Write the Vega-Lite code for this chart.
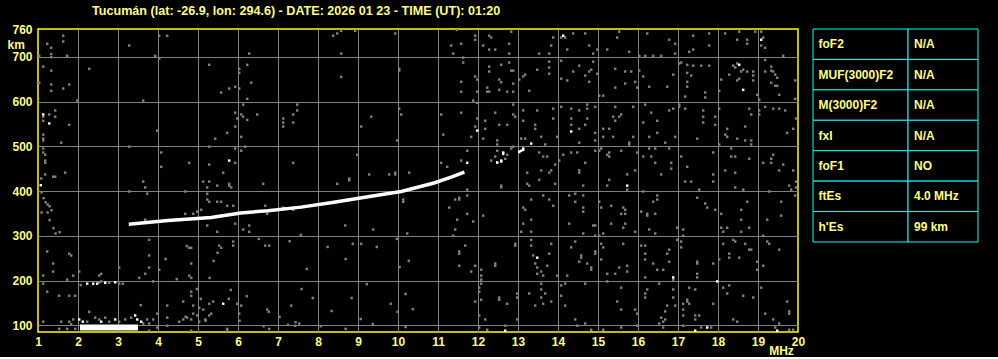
{
  "$schema": "https://vega.github.io/schema/vega-lite/v6.json",
  "background": "black",
  "padding": {"left": 6, "top": 4, "right": 20, "bottom": 0},
  "autosize": {"type": "pad"},
  "title": {"text": "Tucumán (lat: -26.9, lon: 294.6) - DATE: 2026 01 23 - TIME (UT): 01:20", "anchor": "start", "frame": "group", "dx": 54, "offset": 6, "font": "Liberation Sans", "fontSize": 12.6, "fontWeight": "bold", "color": "#ffff80"},
  "spacing": 15,
  "bounds": "flush",
  "config": {"view": {"stroke": null}, "axis": {"labelFont": "Liberation Sans", "labelFontSize": 12, "labelFontWeight": "bold", "labelColor": "#ffff80", "titleFont": "Liberation Sans", "titleFontSize": 12, "titleFontWeight": "bold", "titleColor": "#ffff80", "labelOverlap": false}},
  "datasets": {
    "gray": [
      {"f":1.63,"h":747},{"f":1.63,"h":734},{"f":1.23,"h":729},{"f":1.33,"h":720},{"f":1.33,"h":706},{"f":1.33,"h":699},{"f":1.03,"h":702},{"f":1.73,"h":702},{"f":3.28,"h":725},{"f":4.03,"h":747},{"f":4.23,"h":747},{"f":3.93,"h":702},{"f":4.03,"h":696},{"f":1.13,"h":678},{"f":1.33,"h":669},{"f":2.28,"h":673},{"f":1.03,"h":642},{"f":1.33,"h":638},{"f":1.33,"h":624},{"f":1.63,"h":629},{"f":1.78,"h":638},{"f":1.98,"h":602},{"f":3.63,"h":602},{"f":5.28,"h":682},{"f":6.23,"h":682},{"f":6.03,"h":673},{"f":6.03,"h":664},{"f":6.33,"h":642},{"f":5.93,"h":633},{"f":5.78,"h":629},{"f":6.03,"h":629},{"f":5.58,"h":620},{"f":6.23,"h":606},{"f":6.13,"h":593},{"f":5.93,"h":575},{"f":6.08,"h":571},{"f":5.98,"h":562},{"f":6.13,"h":566},{"f":6.23,"h":559},{"f":6.48,"h":571},{"f":5.93,"h":544},{"f":5.73,"h":530},{"f":5.43,"h":517},{"f":6.08,"h":521},{"f":7.13,"h":562},{"f":7.13,"h":553},{"f":7.13,"h":544},{"f":7.38,"h":571},{"f":7.48,"h":580},{"f":7.48,"h":593},{"f":7.38,"h":553},{"f":6.28,"h":707},{"f":8.58,"h":707},{"f":8.58,"h":655},{"f":8.38,"h":747},{"f":8.48,"h":752},{"f":8.58,"h":758},{"f":8.93,"h":758},{"f":9.93,"h":752},{"f":10.03,"h":673},{"f":10.03,"h":669},{"f":10.03,"h":584},{"f":10.08,"h":571},{"f":9.33,"h":566},{"f":9.08,"h":544},{"f":9.98,"h":513},{"f":8.98,"h":481},{"f":1.13,"h":566},{"f":1.28,"h":571},{"f":1.43,"h":580},{"f":1.43,"h":566},{"f":1.13,"h":557},{"f":1.78,"h":548},{"f":1.13,"h":526},{"f":1.13,"h":517},{"f":1.13,"h":513},{"f":1.58,"h":508},{"f":3.98,"h":535},{"f":3.28,"h":499},{"f":1.13,"h":495},{"f":1.18,"h":481},{"f":1.13,"h":486},{"f":1.18,"h":468},{"f":1.18,"h":463},{"f":4.08,"h":486},{"f":4.08,"h":454},{"f":4.78,"h":463},{"f":5.28,"h":499},{"f":5.28,"h":459},{"f":5.93,"h":495},{"f":6.08,"h":490},{"f":6.18,"h":499},{"f":5.93,"h":463},{"f":5.63,"h":441},{"f":7.38,"h":463},{"f":1.18,"h":437},{"f":1.38,"h":432},{"f":1.43,"h":432},{"f":1.68,"h":441},{"f":1.08,"h":428},{"f":8.78,"h":428},{"f":9.28,"h":437},{"f":9.78,"h":437},{"f":9.93,"h":441},{"f":9.93,"h":437},{"f":10.28,"h":441},
      {"f":11.47,"h":760},{"f":11.93,"h":747},{"f":11.93,"h":738},{"f":12.28,"h":747},{"f":12.33,"h":743},{"f":12.83,"h":756},{"f":12.78,"h":729},{"f":12.28,"h":716},{"f":12.43,"h":716},{"f":12.78,"h":707},{"f":12.13,"h":725},{"f":11.33,"h":725},{"f":11.58,"h":729},{"f":11.38,"h":707},{"f":11.63,"h":698},{"f":13.53,"h":707},{"f":13.78,"h":707},{"f":13.83,"h":725},{"f":13.88,"h":743},{"f":14.08,"h":743},{"f":14.18,"h":743},{"f":14.38,"h":752},{"f":14.68,"h":752},{"f":14.78,"h":725},{"f":14.23,"h":716},{"f":14.88,"h":707},{"f":14.98,"h":716},{"f":15.23,"h":716},{"f":15.53,"h":756},{"f":15.48,"h":743},{"f":15.78,"h":711},{"f":16.03,"h":702},{"f":16.18,"h":702},{"f":16.38,"h":702},{"f":16.58,"h":702},{"f":16.93,"h":707},{"f":16.78,"h":738},{"f":16.93,"h":729},{"f":16.23,"h":752},{"f":17.38,"h":747},{"f":17.78,"h":752},{"f":17.28,"h":711},{"f":17.38,"h":716},{"f":17.78,"h":725},{"f":18.18,"h":752},{"f":18.53,"h":756},{"f":18.48,"h":738},{"f":18.73,"h":738},{"f":18.73,"h":729},{"f":18.93,"h":756},{"f":19.08,"h":756},{"f":19.08,"h":725},{"f":19.18,"h":720},{"f":19.63,"h":702},{"f":19.13,"h":743},
      {"f":11.63,"h":687},{"f":12.28,"h":678},{"f":12.28,"h":667},{"f":12.58,"h":682},{"f":12.78,"h":687},{"f":12.83,"h":669},{"f":12.88,"h":669},{"f":11.58,"h":644},{"f":11.58,"h":622},{"f":11.93,"h":656},{"f":11.98,"h":649},{"f":12.23,"h":631},{"f":12.23,"h":622},{"f":12.28,"h":622},{"f":12.53,"h":649},{"f":12.53,"h":626},{"f":12.73,"h":622},{"f":12.88,"h":622},{"f":12.88,"h":640},{"f":12.58,"h":643},{"f":11.98,"h":622},{"f":13.03,"h":649},{"f":13.13,"h":656},{"f":13.18,"h":660},{"f":13.28,"h":624},{"f":13.48,"h":671},{"f":13.78,"h":689},{"f":13.78,"h":676},{"f":13.78,"h":662},{"f":14.08,"h":691},{"f":14.08,"h":651},{"f":14.23,"h":647},{"f":14.38,"h":667},{"f":14.53,"h":680},{"f":14.78,"h":667},{"f":14.68,"h":658},{"f":14.78,"h":644},{"f":14.83,"h":671},{"f":14.88,"h":689},{"f":14.98,"h":662},{"f":15.03,"h":613},{"f":15.13,"h":613},{"f":15.43,"h":673},{"f":15.43,"h":631},{"f":15.68,"h":667},{"f":15.83,"h":667},{"f":15.68,"h":640},{"f":15.93,"h":644},{"f":15.98,"h":631},{"f":16.03,"h":669},{"f":16.13,"h":656},{"f":16.28,"h":633},{"f":16.73,"h":633},{"f":16.88,"h":660},{"f":17.03,"h":685},{"f":17.08,"h":687},{"f":17.23,"h":682},{"f":17.23,"h":664},{"f":17.33,"h":658},{"f":17.38,"h":680},{"f":17.58,"h":680},{"f":17.23,"h":644},{"f":17.23,"h":633},{"f":17.18,"h":611},{"f":17.68,"h":620},{"f":17.68,"h":609},{"f":17.78,"h":680},{"f":18.03,"h":624},{"f":18.08,"h":649},{"f":18.28,"h":660},{"f":18.38,"h":680},{"f":18.48,"h":685},{"f":18.43,"h":676},{"f":18.58,"h":667},{"f":18.63,"h":671},{"f":18.73,"h":667},{"f":18.53,"h":651},{"f":18.48,"h":647},{"f":18.88,"h":667},{"f":18.88,"h":658},{"f":18.88,"h":647},{"f":19.18,"h":693},{"f":19.18,"h":667},{"f":19.33,"h":678},{"f":19.33,"h":669},{"f":19.38,"h":667},{"f":19.43,"h":660},{"f":19.48,"h":653},{"f":19.33,"h":642},{"f":19.43,"h":635},{"f":19.48,"h":635},{"f":19.93,"h":647},{"f":18.98,"h":615},{"f":19.03,"h":604},{"f":19.53,"h":615},{"f":19.93,"h":606},
      {"f":11.08,"h":571},{"f":11.58,"h":575},{"f":11.88,"h":602},{"f":11.98,"h":597},{"f":11.98,"h":562},{"f":12.18,"h":557},{"f":12.43,"h":575},{"f":11.93,"h":544},{"f":12.18,"h":539},{"f":12.53,"h":548},{"f":12.73,"h":548},{"f":12.88,"h":593},{"f":12.88,"h":571},{"f":12.93,"h":566},{"f":13.13,"h":580},{"f":13.13,"h":557},{"f":13.43,"h":548},{"f":13.43,"h":539},{"f":13.48,"h":580},{"f":13.88,"h":584},{"f":13.88,"h":562},{"f":14.08,"h":588},{"f":14.33,"h":584},{"f":14.33,"h":562},{"f":14.33,"h":548},{"f":14.53,"h":580},{"f":14.73,"h":584},{"f":14.73,"h":562},{"f":14.53,"h":539},{"f":14.68,"h":548},{"f":14.73,"h":593},{"f":14.93,"h":588},{"f":14.93,"h":530},{"f":15.13,"h":539},{"f":15.28,"h":539},{"f":15.43,"h":588},{"f":15.38,"h":566},{"f":15.43,"h":557},{"f":15.53,"h":566},{"f":15.58,"h":571},{"f":15.88,"h":588},{"f":16.18,"h":593},{"f":16.33,"h":575},{"f":16.13,"h":553},{"f":16.48,"h":557},{"f":16.78,"h":580},{"f":16.88,"h":584},{"f":17.03,"h":593},{"f":17.03,"h":588},{"f":17.18,"h":584},{"f":17.63,"h":580},{"f":17.63,"h":566},{"f":17.63,"h":553},{"f":17.93,"h":566},{"f":17.93,"h":548},{"f":18.03,"h":584},{"f":18.18,"h":526},{"f":18.23,"h":539},{"f":18.48,"h":517},{"f":18.78,"h":584},{"f":18.68,"h":544},{"f":18.83,"h":571},{"f":19.03,"h":580},{"f":19.03,"h":571},{"f":19.18,"h":588},{"f":19.38,"h":584},{"f":19.53,"h":584},{"f":19.68,"h":580},{"f":19.73,"h":530},{"f":19.88,"h":539},{"f":19.95,"h":562},{"f":11.13,"h":526},{"f":11.83,"h":521},{"f":12.13,"h":517},{"f":12.48,"h":513},{"f":12.48,"h":504},{"f":13.08,"h":517},{"f":13.18,"h":517},{"f":13.58,"h":521},{"f":13.68,"h":504},{"f":13.98,"h":521},{"f":14.53,"h":508},{"f":14.93,"h":513},{"f":15.13,"h":521},{"f":15.38,"h":521},{"f":15.78,"h":508},{"f":15.78,"h":504},{"f":15.88,"h":521},{"f":16.28,"h":521},{"f":16.48,"h":530},{"f":16.68,"h":508},{"f":16.93,"h":521},{"f":17.48,"h":517},{"f":18.03,"h":504},{"f":18.23,"h":521},{"f":18.68,"h":513},{"f":18.83,"h":513},{"f":18.83,"h":504},
      {"f":11.08,"h":463},{"f":11.23,"h":454},{"f":11.58,"h":468},{"f":11.73,"h":490},{"f":12.33,"h":468},{"f":12.43,"h":477},{"f":12.48,"h":490},{"f":12.48,"h":463},{"f":12.68,"h":472},{"f":12.73,"h":481},{"f":12.83,"h":495},{"f":12.88,"h":499},{"f":13.03,"h":486},{"f":13.23,"h":441},{"f":13.53,"h":486},{"f":13.63,"h":477},{"f":13.73,"h":477},{"f":13.58,"h":446},{"f":13.78,"h":441},{"f":13.83,"h":446},{"f":13.93,"h":459},{"f":14.03,"h":468},{"f":14.13,"h":481},{"f":14.33,"h":486},{"f":14.48,"h":486},{"f":14.53,"h":446},{"f":14.53,"h":441},{"f":14.68,"h":463},{"f":14.93,"h":490},{"f":15.03,"h":490},{"f":15.08,"h":495},{"f":15.23,"h":481},{"f":15.28,"h":477},{"f":15.28,"h":486},{"f":15.58,"h":490},{"f":15.73,"h":437},{"f":15.93,"h":446},{"f":15.98,"h":486},{"f":16.13,"h":477},{"f":16.28,"h":495},{"f":16.33,"h":477},{"f":16.43,"h":495},{"f":16.43,"h":463},{"f":16.58,"h":437},{"f":16.78,"h":495},{"f":16.83,"h":463},{"f":16.83,"h":450},{"f":17.08,"h":477},{"f":17.23,"h":454},{"f":17.88,"h":486},{"f":17.88,"h":437},{"f":18.18,"h":446},{"f":18.33,"h":495},{"f":18.33,"h":477},{"f":18.43,"h":477},{"f":18.43,"h":441},{"f":18.78,"h":472},{"f":19.13,"h":463},{"f":19.33,"h":472},{"f":19.33,"h":463},{"f":19.38,"h":481},{"f":19.63,"h":459},{"f":19.53,"h":446},{"f":19.88,"h":446},
      {"f":12.58,"h":412},{"f":13.23,"h":416},{"f":13.53,"h":425},{"f":13.93,"h":416},{"f":14.63,"h":412},{"f":15.23,"h":412},{"f":15.28,"h":425},{"f":15.73,"h":403},{"f":16.13,"h":399},{"f":17.18,"h":421},{"f":17.33,"h":421},{"f":17.88,"h":421},{"f":17.53,"h":403},{"f":18.43,"h":408},{"f":18.63,"h":403},{"f":19.78,"h":412},{"f":19.83,"h":403},{"f":19.95,"h":408},{"f":19.28,"h":399},{"f":11.73,"h":403},{"f":11.73,"h":390},{"f":11.53,"h":385},{"f":11.53,"h":381},{"f":11.43,"h":381},{"f":11.28,"h":363},{"f":11.73,"h":349},{"f":11.88,"h":332},{"f":12.13,"h":345},{"f":11.48,"h":336},{"f":11.43,"h":314},{"f":11.38,"h":300},{"f":13.13,"h":363},{"f":13.18,"h":358},{"f":13.33,"h":381},{"f":13.63,"h":390},{"f":13.78,"h":381},{"f":13.88,"h":367},{"f":13.33,"h":336},{"f":13.13,"h":327},{"f":13.33,"h":309},{"f":13.08,"h":309},{"f":14.28,"h":390},{"f":14.43,"h":394},{"f":14.43,"h":376},{"f":14.63,"h":390},{"f":14.63,"h":363},{"f":14.63,"h":354},{"f":14.28,"h":327},{"f":14.63,"h":305},{"f":14.88,"h":323},{"f":14.93,"h":323},{"f":14.93,"h":300},{"f":15.03,"h":300},{"f":15.13,"h":305},{"f":15.03,"h":376},{"f":15.08,"h":363},{"f":15.33,"h":367},{"f":15.63,"h":363},{"f":15.68,"h":358},{"f":15.58,"h":349},{"f":15.68,"h":349},{"f":15.33,"h":327},{"f":15.68,"h":327},{"f":15.93,"h":309},{"f":15.63,"h":318},{"f":16.08,"h":354},{"f":16.23,"h":349},{"f":16.23,"h":345},{"f":16.43,"h":349},{"f":16.38,"h":376},{"f":16.48,"h":390},{"f":16.48,"h":381},{"f":16.28,"h":314},{"f":16.43,"h":305},{"f":16.98,"h":318},{"f":17.13,"h":314},{"f":17.13,"h":300},{"f":17.48,"h":385},{"f":17.68,"h":372},{"f":17.73,"h":363},{"f":17.93,"h":358},{"f":18.08,"h":349},{"f":18.08,"h":318},{"f":18.13,"h":309},{"f":18.23,"h":318},{"f":18.58,"h":358},{"f":18.58,"h":336},{"f":18.58,"h":309},{"f":18.73,"h":376},{"f":18.78,"h":318},{"f":19.13,"h":300},{"f":19.23,"h":336},{"f":19.58,"h":376},{"f":19.58,"h":345},{"f":19.93,"h":390},{"f":19.95,"h":421},
      {"f":11.53,"h":265},{"f":11.53,"h":260},{"f":11.68,"h":278},{"f":11.53,"h":233},{"f":11.83,"h":220},{"f":11.93,"h":233},{"f":12.08,"h":224},{"f":12.08,"h":211},{"f":12.08,"h":202},{"f":12.43,"h":238},{"f":12.43,"h":233},{"f":12.93,"h":282},{"f":12.93,"h":278},{"f":13.33,"h":291},{"f":13.33,"h":278},{"f":13.38,"h":256},{"f":13.43,"h":238},{"f":13.48,"h":229},{"f":13.48,"h":215},{"f":13.58,"h":220},{"f":13.63,"h":211},{"f":13.73,"h":233},{"f":13.78,"h":260},{"f":13.83,"h":282},{"f":13.98,"h":211},{"f":14.23,"h":211},{"f":14.33,"h":274},{"f":14.43,"h":287},{"f":14.53,"h":242},{"f":14.58,"h":256},{"f":14.58,"h":251},{"f":14.73,"h":238},{"f":14.83,"h":229},{"f":14.83,"h":224},{"f":14.93,"h":265},{"f":14.93,"h":260},{"f":15.08,"h":282},{"f":15.13,"h":274},{"f":15.08,"h":247},{"f":15.23,"h":215},{"f":15.43,"h":215},{"f":15.53,"h":229},{"f":15.63,"h":282},{"f":15.73,"h":233},{"f":15.73,"h":220},{"f":16.08,"h":278},{"f":16.18,"h":278},{"f":16.18,"h":260},{"f":16.18,"h":247},{"f":16.38,"h":238},{"f":16.48,"h":224},{"f":16.63,"h":224},{"f":16.73,"h":260},{"f":16.78,"h":269},{"f":16.78,"h":242},{"f":16.98,"h":291},{"f":17.08,"h":287},{"f":17.08,"h":274},{"f":17.48,"h":242},{"f":17.48,"h":238},{"f":17.48,"h":215},{"f":17.48,"h":207},{"f":17.88,"h":238},{"f":18.03,"h":247},{"f":18.13,"h":282},{"f":18.28,"h":260},{"f":18.28,"h":251},{"f":18.38,"h":291},{"f":18.43,"h":287},{"f":18.53,"h":251},{"f":18.68,"h":282},{"f":18.78,"h":269},{"f":18.83,"h":269},{"f":18.98,"h":242},{"f":18.98,"h":224},{"f":19.13,"h":233},{"f":19.23,"h":287},{"f":19.28,"h":282},{"f":19.53,"h":269},{"f":16.18,"h":207},{"f":16.88,"h":202},
      {"f":12.03,"h":184},{"f":12.03,"h":175},{"f":12.08,"h":193},{"f":11.93,"h":153},{"f":12.08,"h":157},{"f":12.53,"h":162},{"f":12.53,"h":157},{"f":12.73,"h":148},{"f":12.98,"h":171},{"f":12.98,"h":162},{"f":13.28,"h":171},{"f":13.58,"h":193},{"f":13.58,"h":180},{"f":13.68,"h":171},{"f":13.58,"h":162},{"f":13.63,"h":148},{"f":13.43,"h":144},{"f":13.83,"h":153},{"f":14.08,"h":189},{"f":14.18,"h":193},{"f":14.08,"h":166},{"f":14.18,"h":144},{"f":14.68,"h":193},{"f":15.23,"h":198},{"f":15.58,"h":184},{"f":15.48,"h":153},{"f":15.58,"h":135},{"f":15.93,"h":135},{"f":15.98,"h":126},{"f":16.23,"h":180},{"f":16.18,"h":171},{"f":16.18,"h":162},{"f":16.53,"h":193},{"f":16.73,"h":144},{"f":16.68,"h":131},{"f":16.68,"h":113},{"f":16.63,"h":108},{"f":16.53,"h":104},{"f":16.58,"h":117},{"f":16.88,"h":180},{"f":16.88,"h":162},{"f":16.93,"h":144},{"f":17.13,"h":148},{"f":17.13,"h":135},{"f":17.13,"h":122},{"f":17.23,"h":157},{"f":17.23,"h":153},{"f":17.28,"h":184},{"f":17.28,"h":148},{"f":17.43,"h":180},{"f":17.43,"h":122},{"f":17.43,"h":113},{"f":17.53,"h":122},{"f":17.88,"h":148},{"f":18.13,"h":184},{"f":18.23,"h":171},{"f":18.28,"h":189},{"f":18.38,"h":113},{"f":18.48,"h":108},{"f":18.63,"h":166},{"f":18.88,"h":162},{"f":19.08,"h":184},{"f":19.18,"h":126},{"f":19.38,"h":113},{"f":19.53,"h":104},{"f":19.73,"h":153},{"f":19.78,"h":131},{"f":19.78,"h":126},
      {"f":12.03,"h":122},{"f":12.18,"h":113},{"f":12.03,"h":95},{"f":12.23,"h":90},{"f":12.68,"h":99},{"f":12.98,"h":113},{"f":14.43,"h":113},{"f":14.48,"h":99},{"f":14.68,"h":104},{"f":14.83,"h":90},{"f":15.13,"h":90},{"f":15.58,"h":95},{"f":15.98,"h":99},{"f":16.63,"h":95},{"f":17.13,"h":99},{"f":17.58,"h":95},{"f":17.83,"h":95},{"f":19.43,"h":95},{"f":19.78,"h":90},{"f":19.88,"h":90},
      {"f":3.63,"h":421},{"f":3.68,"h":408},{"f":3.73,"h":394},{"f":3.28,"h":399},{"f":4.68,"h":399},{"f":5.13,"h":421},{"f":5.28,"h":421},{"f":5.23,"h":408},{"f":5.23,"h":394},{"f":5.48,"h":412},{"f":5.78,"h":416},{"f":5.78,"h":412},{"f":5.83,"h":408},{"f":6.63,"h":416},{"f":8.48,"h":416},{"f":8.78,"h":424},{"f":10.13,"h":381},{"f":10.13,"h":376},{"f":5.23,"h":381},{"f":5.28,"h":376},{"f":5.48,"h":376},{"f":5.58,"h":376},{"f":5.73,"h":367},{"f":5.88,"h":367},{"f":5.93,"h":327},{"f":6.13,"h":314},{"f":6.28,"h":323},{"f":6.28,"h":309},{"f":6.68,"h":367},{"f":7.13,"h":363},{"f":6.73,"h":349},{"f":7.38,"h":358},{"f":5.08,"h":358},{"f":4.98,"h":354},{"f":4.68,"h":349},{"f":4.88,"h":349},{"f":3.68,"h":336},{"f":3.78,"h":291},{"f":5.23,"h":323},{"f":5.48,"h":309},{"f":5.53,"h":278},{"f":5.58,"h":273},{"f":5.88,"h":287},{"f":5.88,"h":278},{"f":4.78,"h":273},{"f":4.83,"h":273},{"f":6.68,"h":278},{"f":6.78,"h":278},{"f":8.68,"h":323},{"f":9.38,"h":314},{"f":9.08,"h":282},{"f":10.23,"h":305},
      {"f":1.23,"h":265},{"f":1.78,"h":260},{"f":1.38,"h":238},{"f":1.83,"h":256},{"f":2.03,"h":220},{"f":1.13,"h":211},{"f":1.13,"h":193},{"f":1.38,"h":220},{"f":1.88,"h":211},{"f":1.73,"h":202},{"f":2.53,"h":211},{"f":2.58,"h":215},{"f":3.03,"h":229},{"f":3.78,"h":256},{"f":4.03,"h":224},{"f":3.78,"h":229},{"f":3.68,"h":215},{"f":3.53,"h":206},{"f":3.88,"h":198},{"f":4.83,"h":238},{"f":4.78,"h":211},{"f":4.83,"h":206},{"f":4.83,"h":175},{"f":4.83,"h":166},{"f":1.23,"h":175},{"f":1.53,"h":166},{"f":1.78,"h":166},{"f":1.93,"h":166},{"f":4.23,"h":144},{"f":4.23,"h":117},{"f":1.78,"h":108},{"f":1.88,"h":113},{"f":1.13,"h":108},{"f":1.73,"h":92},
      {"f":2.07,"h":190},{"f":2.53,"h":196},{"f":2.58,"h":198},{"f":2.78,"h":195},{"f":3.03,"h":193},{"f":3.12,"h":193},
      {"f":3.57,"h":145},{"f":4.63,"h":153},{"f":4.88,"h":144},{"f":5.03,"h":139},{"f":5.13,"h":135},{"f":5.28,"h":148},{"f":5.38,"h":153},{"f":4.88,"h":126},{"f":4.98,"h":122},{"f":4.73,"h":117},{"f":4.83,"h":113},{"f":5.03,"h":108},{"f":5.18,"h":113},{"f":5.28,"h":122},{"f":5.33,"h":126},{"f":5.98,"h":148},{"f":6.08,"h":144},{"f":6.03,"h":126},{"f":6.73,"h":135},{"f":7.33,"h":144},{"f":7.25,"h":101},{"f":7.43,"h":99},{"f":7.53,"h":104},{"f":6.78,"h":92},{"f":5.73,"h":92},{"f":5.73,"h":88},{"f":4.83,"h":88},{"f":1.58,"h":108},{"f":1.53,"h":92},{"f":1.93,"h":92},{"f":2.28,"h":130},{"f":3.98,"h":126},{"f":3.88,"h":113},{"f":3.73,"h":113},{"f":3.98,"h":95},{"f":3.78,"h":88},{"f":4.53,"h":108},{"f":4.63,"h":113},{"f":4.23,"h":99},
      {"f":1.83,"h":102},{"f":2.23,"h":108},{"f":2.43,"h":117},{"f":2.53,"h":113},{"f":2.68,"h":117},{"f":2.78,"h":108},{"f":3.03,"h":108},{"f":3.18,"h":113},{"f":3.33,"h":117},{"f":3.63,"h":104},{"f":3.78,"h":104},
      {"f":1.09,"h":397},{"f":1.14,"h":384},{"f":1.19,"h":375},{"f":1.24,"h":370},{"f":1.29,"h":366},{"f":1.34,"h":357},{"f":1.09,"h":352},{"f":1.24,"h":352},{"f":1.29,"h":335},{"f":1.39,"h":317},{"f":1.44,"h":305},{"f":1.54,"h":308},
      {"f":13.28,"h":412},{"f":12.58,"h":408},
      {"f":5.49,"h":262},{"f":5.39,"h":244},{"f":5.29,"h":206},{"f":5.77,"h":159},{"f":5.82,"h":179},{"f":6.22,"h":165},{"f":6.77,"h":130},{"f":7.04,"h":119},{"f":7.59,"h":181},{"f":7.72,"h":226},{"f":7.87,"h":161},{"f":8.34,"h":132},{"f":8.84,"h":161},{"f":9.37,"h":103},{"f":9.82,"h":148},{"f":9.99,"h":130},{"f":10.19,"h":170},{"f":10.04,"h":230},{"f":10.27,"h":244},{"f":8.24,"h":275},{"f":8.69,"h":248},{"f":9.22,"h":192},{"f":9.47,"h":275},{"f":9.07,"h":114},{"f":6.04,"h":110},{"f":6.64,"h":98},{"f":7.44,"h":107},{"f":8.07,"h":98},{"f":8.69,"h":92},{"f":10.19,"h":96},{"f":10.37,"h":136},{"f":4.97,"h":181},{"f":5.07,"h":159},{"f":4.69,"h":119},{"f":5.19,"h":110},{"f":4.47,"h":203},{"f":4.72,"h":277},{"f":4.19,"h":248},{"f":6.52,"h":293},{"f":7.29,"h":288},{"f":8.87,"h":282},{"f":9.97,"h":293},{"f":7.57,"h":302}
    ],
    "white": [
      {"f":1.13,"h":571},{"f":1.28,"h":551},{"f":5.78,"h":468},{"f":1.07,"h":413},{"f":14.13,"h":747},{"f":19.08,"h":738},{"f":18.53,"h":682},{"f":18.63,"h":626},{"f":11.98,"h":535},{"f":14.33,"h":533},{"f":13.33,"h":506},{"f":11.73,"h":463},{"f":12.63,"h":486},{"f":12.58,"h":466},{"f":13.08,"h":490},{"f":13.13,"h":495},{"f":12.48,"h":464},{"f":12.58,"h":468},{"f":12.63,"h":483},{"f":13.03,"h":488},{"f":13.13,"h":492},{"f":15.73,"h":412},{"f":13.48,"h":251},{"f":16.88,"h":207},{"f":17.98,"h":198},{"f":12.68,"h":88},{"f":17.43,"h":88},{"f":17.73,"h":95},{"f":19.48,"h":88},{"f":5.63,"h":148},
      {"f":2.23,"h":193},{"f":2.38,"h":193},{"f":2.48,"h":193},{"f":2.68,"h":195},{"f":2.93,"h":196},
      {"f":2.03,"h":113},{"f":2.12,"h":108},{"f":2.58,"h":108},{"f":2.93,"h":113},{"f":3.43,"h":122},{"f":3.48,"h":113},{"f":3.58,"h":108}
    ],
    "traces": [
      {"s":"F","f":3.27,"h":326},{"s":"F","f":4.25,"h":334},{"s":"F","f":5.33,"h":341},{"s":"F","f":6.07,"h":351},{"s":"F","f":6.75,"h":356},{"s":"F","f":7.58,"h":364},{"s":"F","f":8.4,"h":375},{"s":"F","f":9.25,"h":387},{"s":"F","f":10.08,"h":399},{"s":"F","f":10.9,"h":418},{"s":"F","f":11.33,"h":431},{"s":"F","f":11.66,"h":442},
      {"s":"Es","f":2.05,"h":95},{"s":"Es","f":3.5,"h":95}
    ],
    "table": [
      {"p":"foF2","v":"N/A"},{"p":"MUF(3000)F2","v":"N/A"},{"p":"M(3000)F2","v":"N/A"},{"p":"fxI","v":"N/A"},{"p":"foF1","v":"NO"},{"p":"ftEs","v":"4.0 MHz"},{"p":"h'Es","v":"99 km"}
    ]
  },
  "hconcat": [
    {
      "width": 760,
      "height": 303,
      "view": {"stroke": "#ffff00", "strokeWidth": 1.5, "fill": "black"},
      "layer": [
        {
          "data": {"name": "gray"},
          "mark": {"type": "square", "size": 6, "color": "#808080", "opacity": 1, "clip": true},
          "encoding": {
            "x": {"field": "f", "type": "quantitative", "scale": {"domain": [1, 20], "nice": false, "zero": false},
              "axis": {"values": [1,2,3,4,5,6,7,8,9,10,11,12,13,14,15,16,17,18,19,20], "tickCount": 20, "domain": false, "ticks": false, "labelPadding": 4, "labelFlush": false, "labelOverlap": false, "grid": true, "gridColor": {"condition": {"test": "datum.value == 1 || datum.value == 20", "value": "transparent"}, "value": "#808080"}, "title": "MHz", "titleX": 743, "titleY": 22, "titleAlign": "center", "titleBaseline": "alphabetic"}},
            "y": {"field": "h", "type": "quantitative", "scale": {"domain": [85, 762], "nice": false, "zero": false},
              "axis": {"values": [100,200,300,400,500,600,700,760], "tickCount": 8, "domain": false, "ticks": false, "labelPadding": 6, "labelOverlap": false, "grid": true, "gridColor": {"condition": {"test": "datum.value == 760", "value": "transparent"}, "value": "#808080"}, "title": "km", "titleAngle": 0, "titleX": -31, "titleY": 19, "titleAlign": "left", "titleBaseline": "alphabetic"}}
          }
        },
        {
          "data": {"name": "white"},
          "mark": {"type": "square", "size": 6, "color": "#ffffff", "opacity": 1, "clip": true},
          "encoding": {"x": {"field": "f", "type": "quantitative"}, "y": {"field": "h", "type": "quantitative"}}
        },
        {
          "data": {"name": "traces"},
          "transform": [{"filter": "datum.s == 'F'"}],
          "mark": {"type": "line", "color": "#ffffff", "strokeWidth": 3.5, "strokeCap": "butt", "clip": true},
          "encoding": {"x": {"field": "f", "type": "quantitative"}, "y": {"field": "h", "type": "quantitative"}, "order": {"field": "f"}}
        },
        {
          "data": {"name": "traces"},
          "transform": [{"filter": "datum.s == 'Es'"}],
          "mark": {"type": "line", "color": "#ffffff", "strokeWidth": 6, "strokeCap": "butt", "clip": true},
          "encoding": {"x": {"field": "f", "type": "quantitative"}, "y": {"field": "h", "type": "quantitative"}, "order": {"field": "f"}}
        }
      ]
    },
    {
      "hconcat": [
        {
          "width": 95,
          "height": 213,
          "data": {"name": "table"},
          "layer": [
            {"mark": {"type": "rect", "fill": "black", "stroke": "#00ffff", "strokeWidth": 1},
             "encoding": {"y": {"field": "p", "type": "nominal", "sort": null, "axis": null, "scale": {"paddingInner": 0, "paddingOuter": 0}}}},
            {"mark": {"type": "text", "align": "left", "baseline": "middle", "dx": -42, "font": "Liberation Sans", "fontSize": 12, "fontWeight": "bold", "color": "#ffff80"},
             "encoding": {"y": {"field": "p", "type": "nominal", "sort": null}, "text": {"field": "p"}}}
          ]
        },
        {
          "width": 70,
          "height": 213,
          "data": {"name": "table"},
          "layer": [
            {"mark": {"type": "rect", "fill": "black", "stroke": "#00ffff", "strokeWidth": 1},
             "encoding": {"y": {"field": "p", "type": "nominal", "sort": null, "axis": null, "scale": {"paddingInner": 0, "paddingOuter": 0}}}},
            {"mark": {"type": "text", "align": "left", "baseline": "middle", "dx": -29, "font": "Liberation Sans", "fontSize": 12, "fontWeight": "bold", "color": "#ffff80"},
             "encoding": {"y": {"field": "p", "type": "nominal", "sort": null}, "text": {"field": "v"}}}
          ]
        }
      ],
      "spacing": 0,
      "bounds": "flush"
    }
  ]
}
